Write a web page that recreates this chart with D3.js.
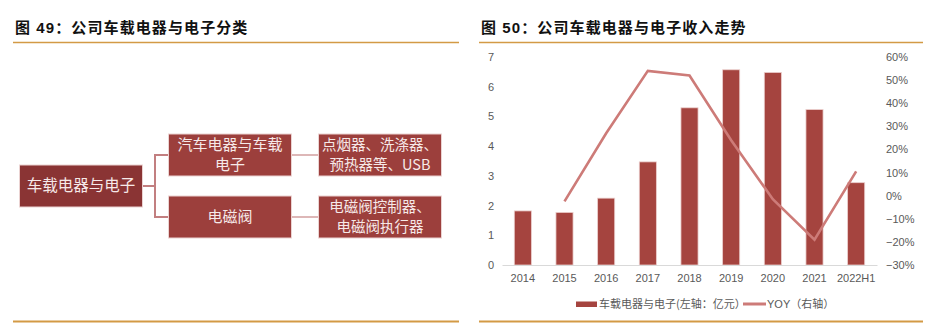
<!DOCTYPE html>
<html>
<head>
<meta charset="utf-8">
<script src="https://cdn.jsdelivr.net/npm/d3@7"></script>
<style>
  html, body { margin: 0; padding: 0; background: #fff; }
  svg { display: block; }
</style>
</head>
<body>
<svg id="chart" width="948" height="324"></svg>
<script>
// ---- content ----
const leftTitle = "图 49：公司车载电器与电子分类";
const rightTitle = "图 50：公司车载电器与电子收入走势";

const rootLabel = ["车载电器与电子"];
const branchLabels = [["汽车电器与车载", "电子"], ["电磁阀"]];
const leafLabels = [["点烟器、洗涤器、", "预热器等、USB"], ["电磁阀控制器、", "电磁阀执行器"]];

const years = ["2014", "2015", "2016", "2017", "2018", "2019", "2020", "2021", "2022H1"];
const revenue = [1.82, 1.77, 2.25, 3.47, 5.29, 6.57, 6.48, 5.23, 2.77];   // 亿元
const yoy = [null, -0.025, 0.27, 0.54, 0.52, 0.24, -0.015, -0.19, 0.105];
const leftTicks = [0, 1, 2, 3, 4, 5, 6, 7];
const rightTicks = [-0.3, -0.2, -0.1, 0, 0.1, 0.2, 0.3, 0.4, 0.5, 0.6];
const legendLabels = ["车载电器与电子(左轴：亿元）", "YOY（右轴）"];

// ---- styles ----
const GOLD = "#D39A45";
const BAR = "#A5443F";
const LINE = "#CD7B78";
const TXT = "#595959";
const titleFont = "'Liberation Sans', 'Noto Sans CJK SC', sans-serif";
const cjk = "'Noto Sans CJK SC', sans-serif";
const num = "'Liberation Sans', Arial, sans-serif";

const svg = d3.select("#chart");

// ---- panel frames: titles and gold rules ----
function panelFrame(x0, x1, title) {
  svg.append("text")
    .attr("x", x0 + 2).attr("y", 33)
    .attr("font-family", titleFont).attr("font-weight", "bold")
    .attr("font-size", 15).attr("letter-spacing", 1.1)
    .attr("fill", "#111").text(title);
  svg.append("line").attr("x1", x0).attr("x2", x1).attr("y1", 42.5).attr("y2", 42.5)
    .attr("stroke", GOLD).attr("stroke-width", 1.5);
  svg.append("line").attr("x1", x0).attr("x2", x1).attr("y1", 321.5).attr("y2", 321.5)
    .attr("stroke", GOLD).attr("stroke-width", 2);
}
panelFrame(13, 459, leftTitle);
panelFrame(479, 923, rightTitle);

// ---- left panel: classification tree ----
const tree = svg.append("g");
const rootBox = { x: 19.5, y: 165, w: 123, h: 42 };
const colX = [168.5, 318.5], boxW = 123, boxH = 42, rowY = [134, 196];

function box(b, fill, lines, fs) {
  tree.append("rect").attr("x", b.x).attr("y", b.y).attr("width", b.w).attr("height", b.h)
    .attr("fill", fill).attr("stroke", "#EBD3D2").attr("stroke-width", 1);
  const lh = 20, cy = b.y + b.h / 2;
  lines.forEach((t, i) => {
    tree.append("text")
      .attr("x", b.x + b.w / 2)
      .attr("y", cy + (i - (lines.length - 1) / 2) * lh)
      .attr("dy", "0.35em").attr("text-anchor", "middle")
      .attr("font-family", cjk).attr("font-size", fs)
      .attr("fill", "#F6E9E8").text(t);
  });
}

// connectors
const cy0 = rootBox.y + rootBox.h / 2;
const branchMid = rowY.map(y => y + boxH / 2);
tree.append("path")
  .attr("d", `M${rootBox.x + rootBox.w},${cy0}H155M155,${branchMid[0] - 1}V${branchMid[1] + 1}` +
    branchMid.map(y => `M154,${y}H${colX[0]}`).join(""))
  .attr("fill", "none").attr("stroke", "#C27F80").attr("stroke-width", 2);
branchMid.forEach(y => {
  tree.append("line").attr("x1", colX[0] + boxW).attr("x2", colX[1]).attr("y1", y).attr("y2", y)
    .attr("stroke", "#DDB7B7").attr("stroke-width", 2);
});

box(rootBox, "#8A3434", rootLabel, 15.5);
branchLabels.forEach((lines, i) => box({ x: colX[0], y: rowY[i], w: boxW, h: boxH }, "#9C3F3C", lines, 15));
leafLabels.forEach((lines, i) => box({ x: colX[1], y: rowY[i], w: boxW, h: boxH }, "#9C3F3C", lines, 14.5));

// ---- right panel: revenue bars + YOY line ----
const plot = { left: 502, right: 877, top: 57, bottom: 265 };
const x = d3.scaleBand().domain(years).range([plot.left, plot.right])
  .paddingInner(0.59).paddingOuter(0.295);
const yL = d3.scaleLinear().domain([0, 7]).range([plot.bottom, plot.top]);
const yR = d3.scaleLinear().domain([-0.3, 0.6]).range([plot.bottom, plot.top]);

const chart = svg.append("g");

chart.selectAll("rect.bar").data(years).join("rect")
  .attr("class", "bar")
  .attr("x", d => x(d)).attr("width", x.bandwidth())
  .attr("y", (d, i) => yL(revenue[i]))
  .attr("height", (d, i) => yL(0) - yL(revenue[i]))
  .attr("fill", BAR).attr("stroke", "#EBCFCD").attr("stroke-width", 0.8);

// category axis
const xAxis = chart.append("g").attr("transform", `translate(0,${plot.bottom})`)
  .call(d3.axisBottom(x).tickSize(0).tickSizeOuter(0).tickPadding(9));
xAxis.select(".domain").attr("stroke", "#D9D9D9").attr("stroke-width", 1);
xAxis.selectAll("text").attr("font-family", num).attr("font-size", 11).attr("fill", TXT);

// left value axis
const lAxis = chart.append("g").attr("transform", "translate(488,0)")
  .call(d3.axisRight(yL).tickValues(leftTicks).tickSize(0).tickPadding(0).tickFormat(d3.format("d")));
lAxis.select(".domain").remove();
lAxis.selectAll("text").attr("font-family", num).attr("font-size", 11).attr("fill", TXT);

// right percentage axis
const rAxis = chart.append("g").attr("transform", "translate(886,0)")
  .call(d3.axisRight(yR).tickValues(rightTicks).tickSize(0).tickPadding(0).tickFormat(d3.format(".0%")));
rAxis.select(".domain").remove();
rAxis.selectAll("text").attr("font-family", num).attr("font-size", 11).attr("fill", TXT);

// YOY line
const yoyPts = years.map((y, i) => [y, yoy[i]]).filter(d => d[1] !== null);
chart.append("path")
  .datum(yoyPts)
  .attr("d", d3.line().x(d => x(d[0]) + x.bandwidth() / 2).y(d => yR(d[1])))
  .attr("fill", "none").attr("stroke", LINE).attr("stroke-width", 2.6)
  .attr("stroke-linejoin", "miter");

// legend
const lg = svg.append("g");
lg.append("rect").attr("x", 576).attr("y", 301.5).attr("width", 21).attr("height", 5.5).attr("fill", BAR);
lg.append("text").attr("x", 599).attr("y", 304.5).attr("dy", "0.35em")
  .attr("font-family", cjk).attr("font-size", 11).attr("fill", TXT).text(legendLabels[0]);
lg.append("line").attr("x1", 743).attr("x2", 766).attr("y1", 304).attr("y2", 304)
  .attr("stroke", LINE).attr("stroke-width", 3);
lg.append("text").attr("x", 767).attr("y", 304.5).attr("dy", "0.35em")
  .attr("font-family", num + ", " + cjk).attr("font-size", 11).attr("fill", TXT).text(legendLabels[1]);
</script>
</body>
</html>
